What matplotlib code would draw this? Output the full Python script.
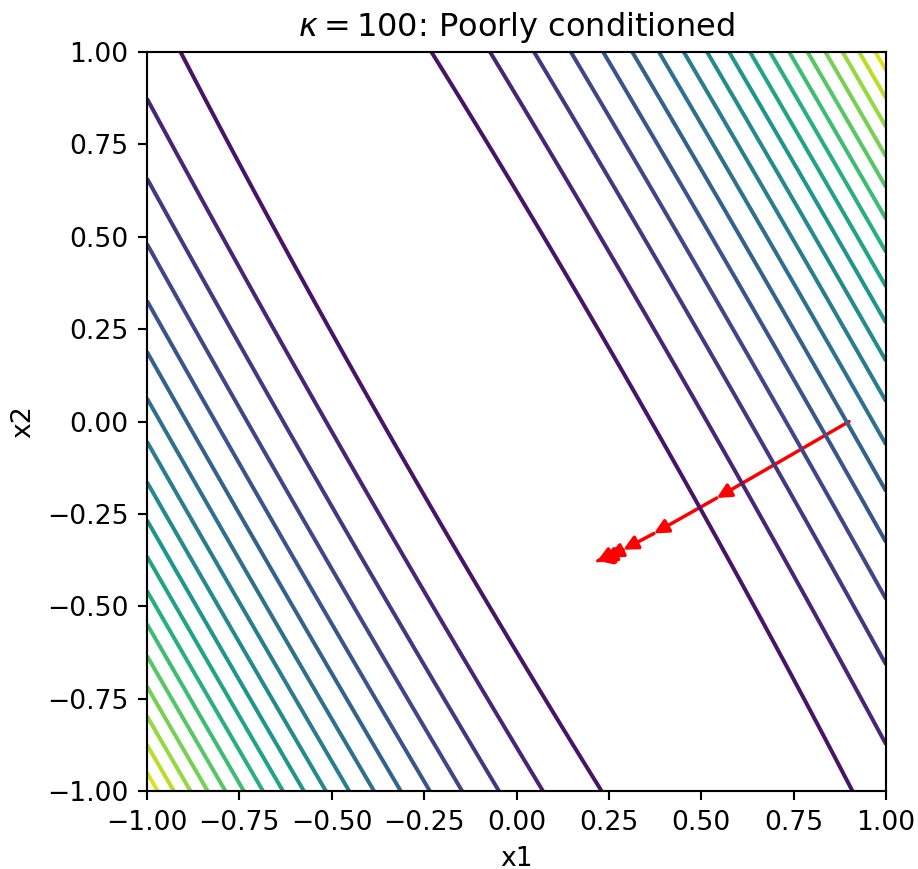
import numpy as np
import matplotlib
matplotlib.use("Agg")
import matplotlib.pyplot as plt
from matplotlib.patches import FancyArrowPatch

# Problem definition: quadratic f(x) = 0.5 x^T A x, A with eigenvalues (kappa, 1), rotated 30 deg
kappa = 100.0
angle_deg = 30.0
grid_lo, grid_hi, grid_n = -1.0, 1.0, 300
n_levels = 20

# Gradient-descent iterates
path_x = [0.900, 0.542, 0.372, 0.289, 0.249, 0.231, 0.224, 0.220, 0.218]
path_y = [0.000, -0.207, -0.303, -0.347, -0.367, -0.374, -0.376, -0.377, -0.378]

title = r"$\kappa = 100$: Poorly conditioned"
xlabel = "x1"
ylabel = "x2"
ticks = [-1.0, -0.75, -0.5, -0.25, 0.0, 0.25, 0.5, 0.75, 1.0]

th = np.deg2rad(angle_deg)
R = np.array([[np.cos(th), -np.sin(th)], [np.sin(th), np.cos(th)]])
A = R @ np.diag([kappa, 1.0]) @ R.T

g = np.linspace(grid_lo, grid_hi, grid_n)
X, Y = np.meshgrid(g, g)
Z = 0.5 * (A[0, 0] * X**2 + 2 * A[0, 1] * X * Y + A[1, 1] * Y**2)

W, H, DPI = 918, 869, 192
fig = plt.figure(figsize=(W / DPI, H / DPI), dpi=DPI)
left, right, top, bottom = 147, 886, 52, 791
ax = fig.add_axes([left / W, 1 - bottom / H, (right - left) / W, (bottom - top) / H])

ax.contour(X, Y, Z, levels=n_levels, cmap="viridis", linewidths=1.5)

for i in range(len(path_x) - 1):
    arr = FancyArrowPatch((path_x[i], path_y[i]), (path_x[i + 1], path_y[i + 1]),
                          arrowstyle="-|>", color="red", lw=1.3,
                          mutation_scale=11, shrinkA=0, shrinkB=0)
    ax.add_patch(arr)

ax.set_xlim(-1, 1)
ax.set_ylim(-1, 1)
labels = [f"{v:.2f}".replace("-", "\u2212") for v in ticks]
ax.set_xticks(ticks)
ax.set_yticks(ticks)
ax.set_xticklabels(labels)
ax.set_yticklabels(labels)
ax.set_title(title, fontsize=12)
ax.set_xlabel(xlabel)
ax.set_ylabel(ylabel)

fig.savefig("out.png", dpi=DPI)
